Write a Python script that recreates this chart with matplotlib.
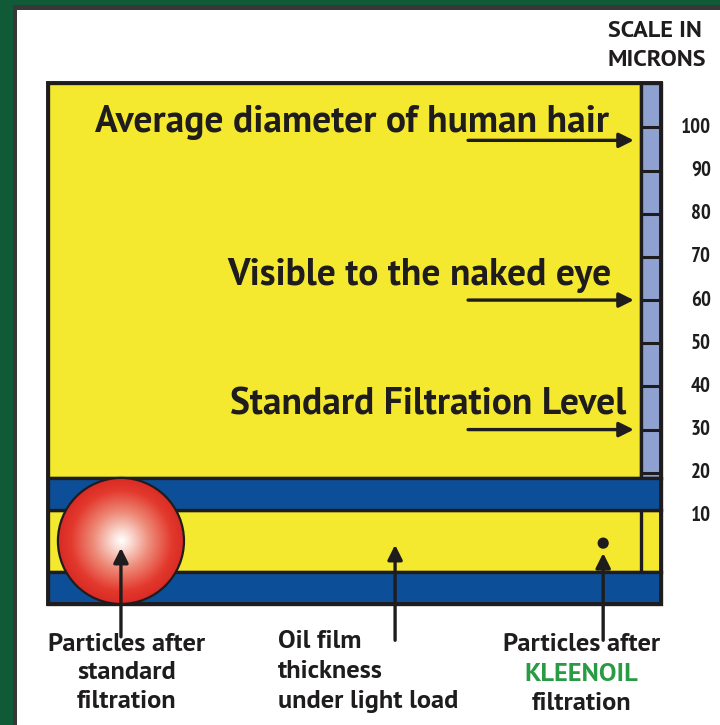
import numpy as np
import matplotlib.pyplot as plt
from matplotlib.patches import Rectangle, Circle
from matplotlib.colors import LinearSegmentedColormap

plt.rcParams['font.family'] = ['PT Sans', 'DejaVu Sans']
plt.rcParams['font.weight'] = 'bold'

# scale (microns)
scale_values = [100, 90, 80, 70, 60, 50, 40, 30, 20, 10]
bar_ticks = [100, 90, 80, 70, 60, 50, 40, 30, 20]

# reference levels pointed at by the arrows
level_labels = ["Average diameter of human hair", "Visible to the naked eye", "Standard Filtration Level"]
level_microns = [97, 60, 30]

# oil film and particles (microns)
film_bottom = -3.0
film_top = 11.4
std_particle_diam = 29.2
kleenoil_particle_diam = 2.6

label_std = ["Particles after", "standard", "filtration"]
label_film = ["Oil film", "thickness", "under light load"]
label_kleen = ["Particles after", "KLEENOIL", "filtration"]

YELLOW = '#f4e92f'
BLUE = '#0c4f98'
BAR = '#8fa1d0'
INK = '#1f1c1d'
GREEN_TXT = '#2a9a45'
NARROW = ['PT Sans Narrow', 'DejaVu Sans']

# 1 micron = PX pixels, box left edge at pixel 48, micron 0 at pixel 559
PX = 4.317
W, H = 720, 725
fig = plt.figure(figsize=(W / 100, H / 100), dpi=100, facecolor='#115a38')
ax = fig.add_axes([0, 0, 1, 1])
ax.set_xlim(-48 / PX, (W - 48) / PX)
ax.set_ylim((559.1 - H) / PX, 559.1 / PX)
ax.axis('off')

# white panel with dark frame
fig.add_artist(Rectangle((13 / W, -0.01), 1.1, (H - 5) / H + 0.01, transform=fig.transFigure,
                         facecolor='#383838', edgecolor='none', zorder=0))
fig.add_artist(Rectangle((17 / W, -0.01), 1.1, (H - 10) / H + 0.01, transform=fig.transFigure,
                         facecolor='white', edgecolor='none', zorder=0))

box_right = 142.0
bar_left = 137.4
box_top = 110.3
band_h = 7.4
box_bottom = film_bottom - band_h

lw = 2.4
# upper yellow area and scale bar
ax.add_patch(Rectangle((0, film_top + band_h), bar_left, box_top - film_top - band_h,
                       facecolor=YELLOW, edgecolor=INK, lw=lw, zorder=1))
ax.add_patch(Rectangle((bar_left, film_top + band_h), box_right - bar_left, box_top - film_top - band_h,
                       facecolor=BAR, edgecolor=INK, lw=lw, zorder=1))
for t in bar_ticks:
    ax.plot([bar_left, box_right], [t, t], color=INK, lw=2.2, zorder=2, solid_capstyle='butt')

# oil film and the two bearing surfaces
ax.add_patch(Rectangle((0, film_bottom), box_right, film_top - film_bottom,
                       facecolor=YELLOW, edgecolor=INK, lw=lw, zorder=1))
ax.plot([bar_left, bar_left], [film_bottom, film_top], color=INK, lw=lw, zorder=2)
ax.add_patch(Rectangle((0, film_top), box_right, band_h, facecolor=BLUE, edgecolor=INK, lw=lw, zorder=2))
ax.add_patch(Rectangle((0, box_bottom), box_right, band_h, facecolor=BLUE, edgecolor=INK, lw=lw, zorder=2))
ax.add_patch(Rectangle((0, box_bottom), box_right, box_top - box_bottom,
                       facecolor='none', edgecolor=INK, lw=2.8, zorder=3))

# standard-filtration particle: shaded sphere
film_mid = (film_top + film_bottom) / 2
cx, r = 16.9, std_particle_diam / 2
n = 300
gx, gy = np.meshgrid(np.linspace(-1, 1, n), np.linspace(-1, 1, n))
rr = np.clip(np.hypot(gx, gy), 0, 1)
cmap = LinearSegmentedColormap.from_list('sph', [(0, '#ffffff'), (0.12, '#fbe3dc'),
                                                 (0.45, '#ee8a78'), (0.8, '#e3392d'),
                                                 (1, '#d92a25')])
im = ax.imshow(cmap(rr), extent=(cx - r, cx + r, film_mid - r, film_mid + r),
               origin='lower', zorder=4, interpolation='bilinear')
circ = Circle((cx, film_mid), r, facecolor='none', edgecolor=INK, lw=1.6, zorder=5)
ax.add_patch(circ)
im.set_clip_path(circ)

# KLEENOIL particle
kx = 128.6
ax.add_patch(Circle((kx, film_mid - 0.5), kleenoil_particle_diam / 2, facecolor=INK, edgecolor='none', zorder=5))

# vertical pointer arrows
aprops = dict(arrowstyle='-|>', color=INK, lw=2.4, mutation_scale=22, shrinkA=0, shrinkB=0)
ax.annotate('', xy=(cx, 2.6), xytext=(cx, -18.0), arrowprops=aprops, zorder=6)
ax.annotate('', xy=(80.4, 3.3), xytext=(80.4, -18.8), arrowprops=aprops, zorder=6)
ax.annotate('', xy=(kx, 1.4), xytext=(kx, -18.8), arrowprops=aprops, zorder=6)

# reference levels
text_right = [130.0, 130.5, 134.0]
text_off = [4.1, 5.6, 5.6]
for lab, lev, xr, off in zip(level_labels, level_microns, text_right, text_off):
    ax.text(xr, lev + off, lab, ha='right', va='center', fontsize=27, fontweight='bold', color=INK, zorder=6)
    ax.annotate('', xy=(135.7, lev), xytext=(97.3, lev), arrowprops=aprops, zorder=6)

# scale labels
for v in scale_values:
    ax.text(153.6, v, str(v), ha='right', va='center', fontsize=15, fontweight='bold', color=INK,
            family=NARROW)
ax.text(129.7, 122.1, "SCALE IN", ha='left', va='center', fontsize=17.5, fontweight='bold', color=INK)
ax.text(129.7, 115.5, "MICRONS", ha='left', va='center', fontsize=17.5, fontweight='bold', color=INK)

# bottom labels
fs = 19
for line, y in zip(label_std, [-19.8, -26.3, -33.0]):
    ax.text(18.3, y, line, ha='center', va='center', fontsize=fs, fontweight='bold', color=INK)
for line, y in zip(label_film, [-19.1, -26.0, -32.9]):
    ax.text(53.3, y, line, ha='left', va='center', fontsize=fs, fontweight='bold', color=INK)
for i, (line, y) in enumerate(zip(label_kleen, [-19.8, -26.7, -33.4])):
    ax.text(123.5, y, line, ha='center', va='center', fontsize=fs, fontweight='bold',
            color=GREEN_TXT if i == 1 else INK)

fig.savefig('out.png', dpi=100, facecolor=fig.get_facecolor())
